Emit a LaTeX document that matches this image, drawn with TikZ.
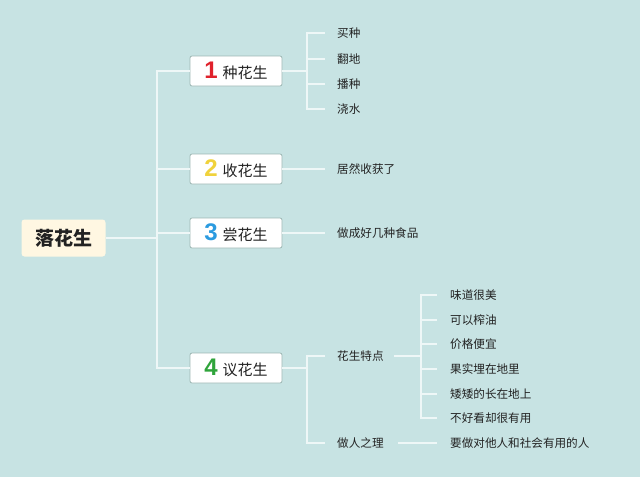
\documentclass[tikz,border=0pt]{standalone}
\usepackage{fontspec}
\setmainfont{Noto Sans CJK SC}
\newfontfamily\numfont{Liberation Sans}
\definecolor{bg}{HTML}{C7E3E3}
\definecolor{ln}{HTML}{EEF7F7}
\definecolor{rootfill}{HTML}{FFF7E2}
\definecolor{boxline}{HTML}{9DB7B3}
\definecolor{nred}{HTML}{E0222C}
\definecolor{nyellow}{HTML}{F0D23C}
\definecolor{nblue}{HTML}{2B9BE0}
\definecolor{ngreen}{HTML}{2FA43B}
\definecolor{txt}{HTML}{222222}
\begin{document}
\begin{tikzpicture}[x=1pt,y=-1pt,
  rootbox/.style={fill=rootfill,rounded corners=3pt,minimum width=84pt,minimum height=37pt,font=\fontsize{19}{22}\selectfont\bfseries,text=txt},
  topic/.style={draw=boxline,line width=0.8pt,fill=white,rounded corners=2pt,minimum width=92pt,minimum height=30pt,font=\fontsize{15}{18}\selectfont,text=txt},
  leaf/.style={anchor=west,inner sep=0pt,font=\fontsize{11.6}{14}\selectfont,text=txt},
  conn/.style={draw=ln,line width=1.4pt}
]
\fill[bg] (0,0) rectangle (640,477);
\useasboundingbox (0,0) rectangle (640,477);

\node[rootbox] (root) at (63.5,238) {落花生};
\node[topic] (b1) at (236,71) {{\numfont\bfseries\fontsize{24}{24}\selectfont\color{nred}1}\hspace{5pt}种花生};
\node[topic] (b2) at (236,169) {{\numfont\bfseries\fontsize{24}{24}\selectfont\color{nyellow}2}\hspace{5pt}收花生};
\node[topic] (b3) at (236,233) {{\numfont\bfseries\fontsize{24}{24}\selectfont\color{nblue}3}\hspace{5pt}尝花生};
\node[topic] (b4) at (236,368) {{\numfont\bfseries\fontsize{24}{24}\selectfont\color{ngreen}4}\hspace{5pt}议花生};

\coordinate (j0) at (157,238);
\coordinate (j1) at (307,71);
\coordinate (j4) at (307,368);
\coordinate (j41) at (421,356);

\node[leaf] (c11) at (337,33) {买种};
\node[leaf] (c12) at (337,59) {翻地};
\node[leaf] (c13) at (337,84) {播种};
\node[leaf] (c14) at (337,109) {浇水};
\node[leaf] (c21) at (337,169) {居然收获了};
\node[leaf] (c31) at (337,233) {做成好几种食品};
\node[leaf] (c41) at (337,356) {花生特点};
\node[leaf] (c42) at (337,443) {做人之理};
\node[leaf] (d1) at (450,295) {味道很美};
\node[leaf] (d2) at (450,320) {可以榨油};
\node[leaf] (d3) at (450,344) {价格便宜};
\node[leaf] (d4) at (450,369) {果实埋在地里};
\node[leaf] (d5) at (450,394) {矮矮的长在地上};
\node[leaf] (d6) at (450,418) {不好看却很有用};
\node[leaf] (e1) at (450,443) {要做对他人和社会有用的人};

\begin{scope}[every path/.style={conn}]
\draw (root.east) -- (j0);
\draw (j0) |- (b1.west);
\draw (j0) |- (b2.west);
\draw (j0) |- (b3.west);
\draw (j0) |- (b4.west);
\draw (b1.east) -- (j1);
\foreach \c in {c11,c12,c13,c14} \draw (j1) |- ([xshift=-12pt]\c.west);
\draw (b2.east) -- ([xshift=-12pt]c21.west);
\draw (b3.east) -- ([xshift=-12pt]c31.west);
\draw (b4.east) -- (j4);
\foreach \c in {c41,c42} \draw (j4) |- ([xshift=-12pt]\c.west);
\draw ([xshift=10pt]c41.east) -- (j41);
\foreach \c in {d1,d2,d3,d4,d5,d6} \draw (j41) |- ([xshift=-13pt]\c.west);
\draw ([xshift=14pt]c42.east) -- ([xshift=-13pt]e1.west);
\end{scope}
\end{tikzpicture}
\end{document}
